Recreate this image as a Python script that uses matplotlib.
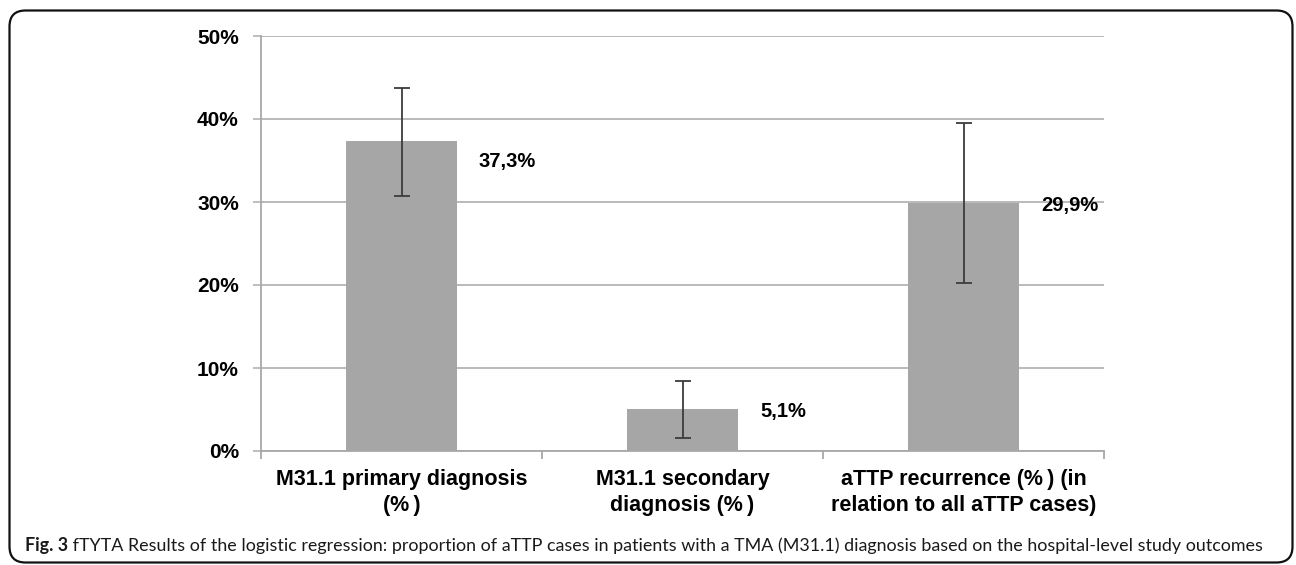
import matplotlib
matplotlib.use("Agg")
import matplotlib.pyplot as plt
from matplotlib.patches import FancyBboxPatch
from matplotlib.ticker import FixedLocator, FuncFormatter

# values (percent)
categories = ["M31.1 primary diagnosis\n(%\u2009)",
              "M31.1 secondary\ndiagnosis (%\u2009)",
              "aTTP recurrence (%\u2009) (in\nrelation to all aTTP cases)"]
values = [37.3, 5.1, 29.9]
err_low = [30.7, 1.6, 20.2]
err_high = [43.7, 8.4, 39.5]
value_labels = ["37,3%", "5,1%", "29,9%"]
caption_bold = "Fig. 3"
caption_text = (" fTYTA Results of the logistic regression: proportion of aTTP cases in patients "
                "with a TMA (M31.1) diagnosis based on the hospital-level study outcomes")

plt.rcParams['font.family'] = ['Liberation Sans', 'DejaVu Sans']

fig = plt.figure(figsize=(12.96, 5.65), dpi=100)
ax = fig.add_axes([261/1296, 114/565, 843/1296, 415/565])

x = list(range(len(values)))
yerr = [[v - lo for v, lo in zip(values, err_low)],
        [hi - v for v, hi in zip(values, err_high)]]
ax.bar(x, values, width=0.395, color="#a6a6a6", zorder=2)
ax.errorbar(x, values, yerr=yerr, fmt="none", ecolor="#3c3c3c",
            elinewidth=1.3, capsize=5.5, capthick=1.3, zorder=3)

# value labels to the right of each bar
offsets = [-20, -3, -3]
for xi, v, lab, off in zip(x, values, value_labels, offsets):
    ax.annotate(lab, (xi + 0.395/2, v), xytext=(22, off), textcoords="offset pixels",
                ha="left", va="center", fontsize=14.5, fontweight="bold", zorder=4)

ax.set_xlim(-0.5, 2.5)
ax.set_ylim(0, 50)
ax.yaxis.set_major_locator(FixedLocator([0, 10, 20, 30, 40, 50]))
ax.yaxis.set_major_formatter(FuncFormatter(lambda v, p: "%d%%" % v))
ax.grid(axis="y", color="#b4b4b4", linewidth=1.3, zorder=0)
ax.set_axisbelow(True)

ax.set_xticks(x)
ax.set_xticklabels(categories, fontsize=15.5, fontweight="bold", linespacing=1.3)
ax.set_xticks([-0.5, 0.5, 1.5, 2.5], minor=True)
ax.tick_params(axis="x", which="major", length=0, pad=13)
ax.tick_params(axis="x", which="minor", length=6, width=1.2, color="#a0a0a0")
ax.tick_params(axis="y", length=6, width=1.2, color="#b4b4b4", labelsize=15, pad=10)
for t in ax.get_yticklabels():
    t.set_fontweight("bold")

for s in ["top", "right"]:
    ax.spines[s].set_visible(False)
for s in ["left", "bottom"]:
    ax.spines[s].set_color("#a8a8a8")
    ax.spines[s].set_linewidth(1.3)

# rounded frame around the figure
frame = FancyBboxPatch((0.095, 0.025), 12.83, 5.52,
                       boxstyle="round,pad=0,rounding_size=0.16",
                       transform=fig.dpi_scale_trans, fill=False,
                       edgecolor="#111111", linewidth=1.6)
fig.patches.append(frame)

# caption
t1 = fig.text(25/1296, 1 - 546/565, caption_bold, fontsize=12.9, fontweight="bold",
              family=["Lato", "DejaVu Sans"], ha="left", va="center", color="#1a1a1a")
fig.canvas.draw()
bb = t1.get_window_extent()
fig.text(bb.x1 / fig.bbox.width, 1 - 546/565, caption_text, fontsize=12.9,
         family=["Lato", "DejaVu Sans"], ha="left", va="center", color="#1a1a1a")

fig.savefig("out.png", dpi=100)
